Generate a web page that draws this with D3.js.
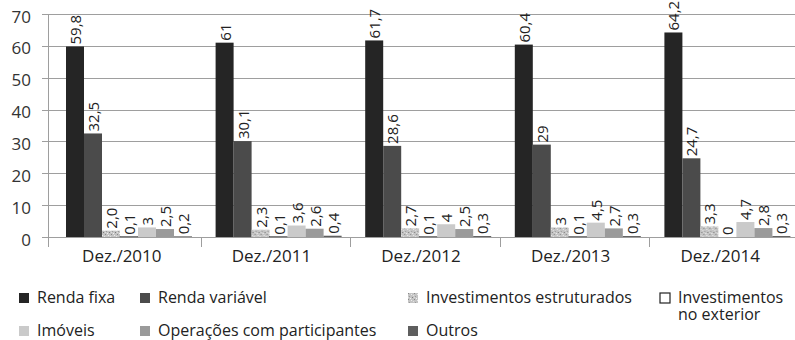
<!DOCTYPE html>
<html>
<head>
<meta charset="utf-8">
<script src="https://cdn.jsdelivr.net/npm/d3@7"></script>
<style>
  body { margin: 0; background: #fff; }
  svg { display: block; font-family: "Open Sans", sans-serif; }
</style>
</head>
<body>
<svg width="795" height="340"></svg>
<script>
const categories = ["Dez./2010", "Dez./2011", "Dez./2012", "Dez./2013", "Dez./2014"];
const seriesNames = [
  "Renda fixa",
  "Renda variável",
  "Investimentos estruturados",
  "Investimentos no exterior",
  "Imóveis",
  "Operações com participantes",
  "Outros",
];
const rendaFixa = [59.8, 61, 61.7, 60.4, 64.2];
const rendaVariavel = [32.5, 30.1, 28.6, 29, 24.7];
const estruturados = [2.0, 2.3, 2.7, 3, 3.3];
const exterior = [0.1, 0.1, 0.1, 0.1, 0];
const imoveis = [3, 3.6, 4, 4.5, 4.7];
const operacoes = [2.5, 2.6, 2.5, 2.7, 2.8];
const outros = [0.2, 0.4, 0.3, 0.3, 0.3];
const yTicks = [0, 10, 20, 30, 40, 50, 60, 70];
// one label printed with a trailing decimal in the original
const labelOverrides = { "Investimentos estruturados|Dez./2010": "2,0" };

const allSeries = [rendaFixa, rendaVariavel, estruturados, exterior, imoveis, operacoes, outros];
const rows = categories.map((c, i) => ({
  cat: c,
  vals: seriesNames.map((s, j) => ({ series: s, value: allSeries[j][i], cat: c })),
}));

const svg = d3.select("svg");
const defs = svg.append("defs");

// speckled fill for "Investimentos estruturados"
const pat = defs.append("pattern")
  .attr("id", "speckle")
  .attr("width", 6).attr("height", 6)
  .attr("patternUnits", "userSpaceOnUse");
pat.append("rect").attr("width", 6).attr("height", 6).attr("fill", "#c4c4c4");
[[0, 0, "#8a8a8a"], [3, 1, "#eeeeee"], [1, 3, "#9c9c9c"], [4, 4, "#7c7c7c"], [5, 2, "#e2e2e2"], [2, 5, "#f2f2f2"], [0, 4, "#dcdcdc"]]
  .forEach(([x, y, c]) => pat.append("rect").attr("x", x).attr("y", y).attr("width", 1).attr("height", 1).attr("fill", c));

const color = d3.scaleOrdinal(seriesNames, [
  "#252525", "#4b4b4b", "url(#speckle)", "#ffffff", "#cacaca", "#9a9a9a", "#5e5e5e",
]);

const y = d3.scaleLinear([0, 70], [237, 14]);
const x0 = d3.scaleBand(categories, [51, 799]);
const x1 = d3.scaleBand(seriesNames, [15, 141]);

// gridlines
svg.append("g")
  .selectAll("line")
  .data(yTicks)
  .join("line")
  .attr("x1", 42).attr("x2", 795)
  .attr("y1", (d) => Math.round(y(d)) + 0.5)
  .attr("y2", (d) => Math.round(y(d)) + 0.5)
  .attr("stroke", "#9e9e9e");

svg.append("g")
  .selectAll("text")
  .data(yTicks)
  .join("text")
  .attr("x", 31)
  .attr("y", (d) => y(d) + 4)
  .attr("text-anchor", "end")
  .attr("dominant-baseline", "middle")
  .attr("font-size", 17)
  .attr("fill", "#333")
  .text((d) => d);

// vertical axis line and category ticks
svg.append("line")
  .attr("x1", 48.5).attr("x2", 48.5)
  .attr("y1", y(70)).attr("y2", 247)
  .attr("stroke", "#9e9e9e");
svg.append("g")
  .selectAll("line")
  .data(categories.slice(1))
  .join("line")
  .attr("x1", (d) => Math.round(x0(d)) + 0.5)
  .attr("x2", (d) => Math.round(x0(d)) + 0.5)
  .attr("y1", y(0)).attr("y2", 247)
  .attr("stroke", "#9e9e9e");

const groups = svg.append("g")
  .selectAll("g")
  .data(rows)
  .join("g")
  .attr("transform", (d) => `translate(${x0(d.cat)},0)`);

groups.selectAll("rect")
  .data((d) => d.vals)
  .join("rect")
  .attr("x", (d) => x1(d.series))
  .attr("y", (d) => y(d.value))
  .attr("width", x1.bandwidth())
  .attr("height", (d) => y(0) - y(d.value))
  .attr("fill", (d) => color(d.series))
  .attr("stroke", (d) => (d.series === "Investimentos no exterior" ? "#555" : "none"))
  .attr("stroke-width", 0.5);

groups.selectAll("text")
  .data((d) => d.vals)
  .join("text")
  .attr("transform", (d) =>
    `translate(${x1(d.series) + x1.bandwidth() / 2 + 6},${y(d.value) - 2}) rotate(-90)`)
  .attr("font-size", 15)
  .attr("fill", "#222")
  .text((d) => labelOverrides[d.series + "|" + d.cat] || String(d.value).replace(".", ","));

// category labels
svg.append("g")
  .selectAll("text")
  .data(categories)
  .join("text")
  .attr("x", (d) => x0(d) + x0.bandwidth() / 2 - 4)
  .attr("y", 262)
  .attr("text-anchor", "middle")
  .attr("font-size", 17)
  .attr("fill", "#222")
  .text((d) => d);

// legend
const legendPos = [
  [19, 293], [140, 293], [408, 293], [660, 293],
  [19, 326], [140, 326], [408, 326],
];
const legend = svg.append("g")
  .selectAll("g")
  .data(seriesNames)
  .join("g")
  .attr("transform", (d, i) => `translate(${legendPos[i][0]},${legendPos[i][1]})`);
legend.append("rect")
  .attr("width", 10).attr("height", 10)
  .attr("fill", (d) => color(d))
  .attr("stroke", (d) => (d === "Investimentos no exterior" ? "#222" : "none"))
  .attr("stroke-width", 1.2);
legend.append("text")
  .attr("x", 18)
  .attr("y", 10)
  .attr("font-size", 16)
  .attr("fill", "#222")
  .each(function (d) {
    const t = d3.select(this);
    if (d === "Investimentos no exterior") {
      t.append("tspan").attr("x", 18).text("Investimentos");
      t.append("tspan").attr("x", 18).attr("dy", 17).text("no exterior");
    } else {
      t.text(d);
    }
  });
</script>
</body>
</html>
